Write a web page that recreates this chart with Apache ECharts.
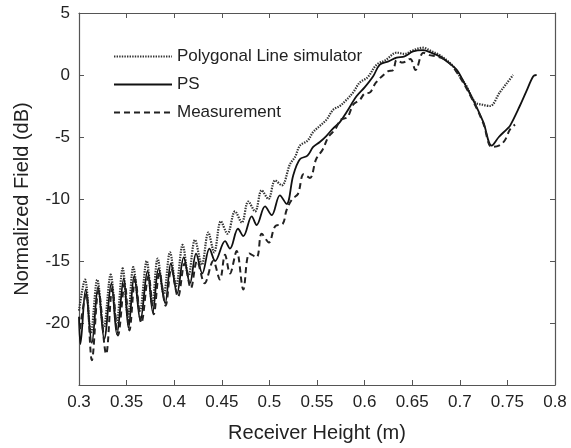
<!DOCTYPE html>
<html><head><meta charset="utf-8">
<script src="https://cdn.jsdelivr.net/npm/echarts@6/dist/echarts.min.js"></script>
<style>html,body{margin:0;padding:0;background:#fff}#c{width:571px;height:448px}</style>
</head><body><div id="c"></div>
<script>
// Polygonal Line simulator (dotted)
const polyX = [0.300,0.3063,0.3125,0.3192,0.326,0.3333,0.3395,0.3459,0.3515,0.357,0.364,0.3711,0.377,0.3826,0.389,0.3956,0.402,0.4089,0.415,0.4218,0.429,0.4358,0.442,0.449,0.456,0.4639,0.471,0.4778,0.485,0.4919,0.499,0.506,0.513,0.5216,0.527,0.532,0.540,0.546,0.553,0.560,0.567,0.574,0.581,0.588,0.595,0.603,0.6127,0.622,0.6337,0.642,0.651,0.6617,0.668,0.679,0.686,0.693,0.700,0.707,0.716,0.724,0.7317,0.742,0.749,0.756];
const polyY = [-19.0,-16.5,-20.8,-16.5,-20.4,-16.1,-20.0,-15.6,-19.5,-15.5,-19.0,-15.0,-18.4,-14.8,-17.7,-14.3,-17.0,-13.7,-16.2,-13.3,-15.3,-12.7,-14.3,-11.8,-12.8,-11.0,-11.9,-10.2,-11.0,-9.3,-10.0,-8.5,-8.9,-7.2,-6.6,-5.7,-5.3,-4.6,-4.1,-3.6,-2.8,-2.5,-2.0,-1.4,-0.6,-0.2,0.84,1.2,1.8,1.7,2.0,2.2,2.0,1.6,1.2,0.7,-0.1,-0.9,-2.2,-2.4,-2.5,-1.4,-0.7,0.0];
// PS (solid)
const psX = [0.300,0.3015,0.307,0.3135,0.320,0.3265,0.334,0.3398,0.347,0.352,0.358,0.3645,0.372,0.3775,0.3835,0.3905,0.3965,0.403,0.410,0.4165,0.423,0.4295,0.437,0.443,0.4534,0.4586,0.467,0.4726,0.4814,0.4866,0.4954,0.5024,0.511,0.518,0.525,0.532,0.540,0.546,0.553,0.560,0.567,0.574,0.581,0.5917,0.600,0.609,0.616,0.625,0.6337,0.642,0.651,0.6617,0.670,0.679,0.688,0.697,0.705,0.714,0.7247,0.7335,0.741,0.749,0.7527,0.763,0.770,0.7772,0.7807];
const psY = [-19.5,-21.7,-17.3,-21.6,-17.1,-21.3,-16.8,-20.9,-16.4,-20.4,-16.2,-19.8,-15.8,-19.1,-15.6,-18.4,-15.2,-17.6,-14.7,-16.8,-14.4,-16.0,-14.0,-15.0,-13.4,-14.0,-12.4,-13.0,-11.4,-12.1,-10.6,-11.3,-9.7,-10.4,-8.1,-6.8,-6.5,-5.8,-5.4,-4.9,-4.3,-3.8,-3.0,-1.7,-1.0,-0.1,0.84,1.1,1.4,1.5,1.9,2.0,1.8,1.5,1.0,0.4,-0.7,-2.0,-3.8,-5.7,-5.0,-4.4,-4.1,-2.5,-1.3,-0.1,0.0];
// Measurement (dashed)
const measX = [0.301,0.3075,0.3135,0.3205,0.3285,0.335,0.341,0.348,0.353,0.359,0.3655,0.373,0.3785,0.3845,0.391,0.397,0.404,0.411,0.4175,0.424,0.432,0.441,0.448,0.4534,0.4586,0.4656,0.4726,0.479,0.4866,0.4919,0.4995,0.506,0.514,0.518,0.524,0.530,0.536,0.5426,0.549,0.556,0.562,0.569,0.575,0.582,0.588,0.595,0.600,0.6057,0.612,0.6246,0.630,0.6337,0.640,0.648,0.6535,0.6617,0.668,0.6757,0.683,0.690,0.697,0.705,0.714,0.7247,0.7335,0.741,0.747,0.7527,0.758];
const measY = [-20.5,-17.6,-23.0,-17.4,-22.5,-17.2,-21.0,-16.8,-20.6,-16.5,-20.0,-16.2,-19.3,-15.9,-18.6,-15.6,-17.9,-15.2,-17.2,-15.0,-16.8,-15.0,-16.5,-14.5,-16.0,-14.2,-17.3,-14.4,-14.7,-12.8,-13.5,-12.2,-12.0,-10.9,-10.0,-9.6,-8.0,-8.3,-6.8,-6.0,-5.0,-4.4,-3.6,-3.4,-2.4,-2.0,-1.5,-1.4,-0.6,0.3,0.4,1.2,1.0,1.3,0.4,1.8,1.6,1.5,1.3,0.9,0.2,-0.8,-2.1,-3.9,-5.8,-5.7,-5.3,-4.4,-4.0];

const xTicks = [0.3,0.35,0.4,0.45,0.5,0.55,0.6,0.65,0.7,0.75,0.8];
const yTicks = [-25,-20,-15,-10,-5,0,5];
const names = ['Polygonal Line simulator','PS','Measurement'];

const zip = (a,b)=>a.map((v,i)=>[v,b[i]]);
const FONT = '"Liberation Sans", Arial, sans-serif';
const axisCol = '#555';
const chart = echarts.init(document.getElementById('c'), null, {renderer:'canvas'});
const fmtX = v => String(Math.round(v*100)/100);
const axLine = {show:true,onZero:false,lineStyle:{color:axisCol,width:1.2}};
const axTick = {show:true,inside:true,length:5,lineStyle:{color:axisCol}};
chart.setOption({
  animation:false,
  backgroundColor:'#fff',
  grid:{left:79,right:16,top:13,bottom:60},
  legend:{
    orient:'vertical', left:108, top:43, itemWidth:58, itemHeight:14, itemGap:11,
    itemStyle:{opacity:0},
    textStyle:{fontFamily:FONT,fontSize:17,color:'#222'},
    data:names
  },
  xAxis:[{
    type:'value', min:0.3, max:0.8, interval:0.05, position:'bottom',
    name:'Receiver Height (m)', nameLocation:'middle', nameGap:38,
    nameTextStyle:{fontFamily:FONT,fontSize:20,color:'#222'},
    axisLine:axLine, axisTick:axTick,
    axisLabel:{fontFamily:FONT,fontSize:17,color:'#222',margin:9,formatter:v=>fmtX(v),showMinLabel:true,showMaxLabel:true},
    splitLine:{show:false}
  },{
    type:'value', min:0.3, max:0.8, interval:0.05, position:'top',
    axisLine:axLine, axisTick:axTick,
    axisLabel:{show:false}, splitLine:{show:false}
  }],
  yAxis:[{
    type:'value', min:-25, max:5, interval:5, position:'left',
    name:'Normalized Field (dB)', nameLocation:'middle', nameGap:47,
    nameTextStyle:{fontFamily:FONT,fontSize:20,color:'#222'},
    axisLine:axLine, axisTick:axTick,
    axisLabel:{fontFamily:FONT,fontSize:17,color:'#222',margin:9,
      formatter:v=> (v===-25?'':String(v))},
    splitLine:{show:false}
  },{
    type:'value', min:-25, max:5, interval:5, position:'right',
    axisLine:axLine, axisTick:axTick,
    axisLabel:{show:false}, splitLine:{show:false}
  }],
  series:[
    {name:names[0],type:'line',data:zip(polyX,polyY),symbol:'none',smooth:0.35,
     lineStyle:{color:'#333',width:2.2,type:[1.4,1.2]},itemStyle:{color:'#333'}},
    {name:names[1],type:'line',data:zip(psX,psY),symbol:'none',smooth:0.35,
     lineStyle:{color:'#111',width:1.8,type:'solid'},itemStyle:{color:'#111'}},
    {name:names[2],type:'line',data:zip(measX,measY),symbol:'none',smooth:0.35,
     lineStyle:{color:'#222',width:2,type:[6,4]},itemStyle:{color:'#222'}}
  ]
});
</script></body></html>
